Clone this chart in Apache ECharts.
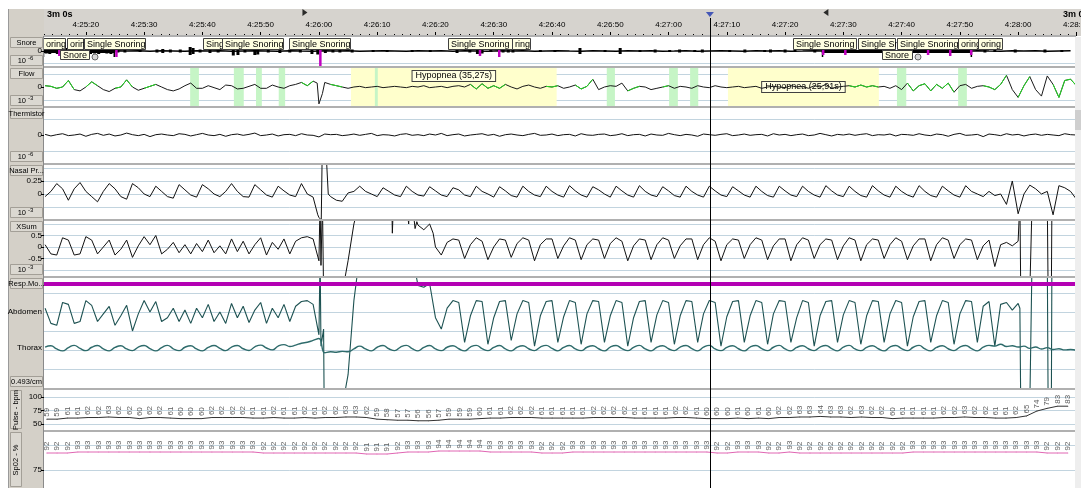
<!DOCTYPE html>
<html>
<head>
<meta charset="utf-8">
<title>PSG epoch</title>
<script src="https://cdn.jsdelivr.net/npm/echarts@6.0.0/dist/echarts.min.js"></script>
<style>
  html, body { margin: 0; padding: 0; background: #fff; }
  #main { width: 1081px; height: 488px; }
</style>
</head>
<body>
<div id="main"></div>
<script>
// x axis = seconds after 4:25:10, a 3 minute window
var CLOCK_START = 4 * 3600 + 25 * 60 + 10;
var WINDOW = 180;
var SAMPLE_T0 = 3, SAMPLE_DT = 1;        // waveform samples
var SNORE_DT = 2;                         // snore baseline samples
var LABEL_T0 = 3.3, LABEL_DT = 1.77;      // pulse / SpO2 readings
var CURSOR_T = 117.1;
var MARK_START = 47.6, MARK_END = 137;

// ---- events ----
var snoreLabels = [
  [2.6, 6.4, 'oring'], [6.8, 9.5, 'orin'], [9.7, 20.2, 'Single Snoring'],
  [30.1, 33.4, 'Sing'], [33.4, 43.8, 'Single Snoring'], [44.9, 55.3, 'Single Snoring'],
  [72.2, 83.1, 'Single Snoring'], [83.1, 86.2, 'ring'],
  [131.4, 142.2, 'Single Snoring'], [142.5, 148.9, 'Single Sn'], [149.2, 159.7, 'Single Snoring'],
  [159.7, 163.1, 'oring'], [163.1, 167.2, 'oring']
];
var snoreBoxes = [[5.6, 10.5, 'Snore'], [146.6, 151.8, 'Snore']];
var snoreEvents = [[2.6, 15.0], [136.3, 162.1]];
var snoreMarks = [
  [5.4, 0.4, -0.5], [15.2, 0.4, -0.6], [50.2, 0.6, -1.5], [77.6, 0.4, -0.5], [80.9, 0.4, -0.6],
  [136.5, 0.4, -0.4], [140.3, 0.3, -0.4], [147.8, 0.4, -0.5], [154.5, 0.4, -0.4],
  [158.3, 0.4, -0.5], [161.9, 0.3, -0.4]
];
var snoreBursts = [
  [3.2,0.25],[3.8,0.3],[4.5,0.2],[5.1,0.3],[5.9,0.25],[6.6,0.3],[7.3,0.2],[8.0,0.3],[8.7,0.25],
  [9.4,0.3],[10.1,0.2],[10.8,0.3],[11.5,0.25],[12.2,0.3],[12.9,0.2],[13.6,0.25],[14.3,0.3],
  [15.5,0.15],[16.7,0.15],[19.3,0.1],[22.2,0.15],[23.2,0.2],[24.5,0.15],[26.2,0.15],[27.9,0.4],
  [28.4,0.3],[29.6,0.15],[31.3,0.2],[32.7,0.15],[35.3,0.45],[36.1,0.4],[37.3,0.15],[39.0,0.4],
  [39.5,0.35],[41.3,0.15],[43.3,0.2],[45.0,0.15],[46.8,0.15],[48.8,0.3],[49.8,0.35],[51.1,0.2],
  [52.4,0.15],[53.6,0.15],[55.7,0.15],[59.3,0.1],[61.7,0.1],[66.0,0.1],[69.1,0.1],[73.7,0.2],
  [75.9,0.15],[77.2,0.3],[78.0,0.25],[79.5,0.1],[81.6,0.15],[82.5,0.15],[83.3,0.15],[88.0,0.1],
  [90.5,0.1],[94.8,0.3],[99.1,0.1],[101.7,0.3],[105.1,0.1],[107.7,0.15],[110.2,0.1],[111.9,0.15],
  [114.5,0.1],[115.8,0.15],[120.5,0.1],[123.1,0.15],[126.5,0.1],[127.5,0.15],[130.0,0.15],
  [131.7,0.1],[135.1,0.15],[137.5,0.2],[139.0,0.15],[141.0,0.2],[143.5,0.15],[145.0,0.2],
  [150.0,0.15],[152.5,0.2],[155.5,0.15],[157.0,0.2],[160.0,0.15],[164.3,0.15],[166.0,0.1],
  [169.5,0.15],[174.6,0.15],[177.5,0.1]
];
var flowBands = [[27.9,29.4],[35.4,37.1],[39.2,40.2],[43.1,44.2],[59.6,60.1],[99.4,100.8],
  [110.1,111.6],[113.7,115.1],[149.2,150.8],[159.7,161.2]];
var hypopnea = [[55.5, 90.8, 'Hypopnea (35,27s)'], [120.2, 146.1, 'Hypopnea (25,91s)']];
var flowGreen = [[3,8],[10,12.5],[15,18.5],[19.5,22],[46.5,49.5],[51.5,54.5],[76,79],[79.5,82],
  [88.5,91],[93.5,97],[103,105],[108.5,110.5],[140.5,146],[151,159],[164,168.5],[170,172],[175.5,180]];

// ---- waveforms (1 s samples from t=3) ----
var snoreBase = [
  0,0.03,-0.02,0.02,0,-0.03,0.02,0,0.03,-0.02,
  0.02,0,-0.02,0.03,0,0.02,-0.03,0,0.02,0,
  -0.02,0.03,0,-0.02,0.02,0,0.03,-0.02,0,0.02,
  0,-0.03,0.02,0,0.02,-0.02,0.03,0,-0.02,0.02,
  0,0.02,-0.03,0,0.03,0,-0.02,0.02,0,-0.02,
  0.03,0,0.02,-0.02,0,0.03,-0.02,0,0.02,0,
  -0.03,0.02,0,0.02,-0.02,0,0.03,0,-0.02,0.02,
  0,-0.02,0.03,0,0.02,-0.03,0,0.02,0,-0.02,
  0.03,0,-0.02,0.02,0,0.03,-0.02,0,0.02
];
var flow = [
  0.1,0.05,-0.1,0.0,0.5,-0.2,-0.3,0.0,0.4,0.1,
  -0.2,-0.35,-0.1,0.0,0.55,0.0,-0.25,-0.1,0.05,0.2,
  0.0,-0.2,-0.3,-0.15,0.1,0.3,-0.1,-0.1,0.1,-0.05,
  -0.2,0.15,0.1,-0.15,-0.1,0.05,0.2,-0.1,-0.1,0.15,
  0.0,-0.1,0.1,0.2,0.35,0.1,0.45,-1.3,0.35,0.2,
  0.1,0.0,-0.1,0.0,0.05,-0.05,0.0,0.05,-0.05,0.0,
  0.05,0.0,-0.05,0.05,0.0,0.1,-0.05,0.0,0.05,-0.05,
  0.05,0.1,0.0,0.2,-0.15,0.25,-0.1,0.1,-0.1,0.2,
  0.0,-0.15,0.05,0.15,0.0,-0.1,0.05,0.0,0.1,-0.1,
  0.0,0.15,-0.15,0.05,0.6,-0.2,0.0,0.1,0.05,0.3,
  -0.3,-0.1,0.05,0.0,-0.2,-0.1,0.0,0.1,-0.1,0.05,
  0.0,-0.1,0.1,0.0,-0.05,0.1,0.0,-0.05,0.0,0.05,
  -0.05,0.0,0.05,-0.1,0.0,0.05,0.0,-0.05,0.1,0.0,
  0.05,-0.1,0.1,0.0,0.2,-0.1,0.0,0.05,0.1,0.0,
  0.15,0.0,0.1,0.0,0.05,-0.1,0.1,-0.2,0.3,-0.3,
  0.1,0.25,-0.3,0.2,-0.1,0.3,-0.4,0.1,0.2,-0.1,
  0.05,0.1,0.0,-0.2,0.2,0.9,-0.2,-0.8,0.1,0.8,
  -0.2,-0.7,0.85,0.2,-0.8,0.5,0.6,0.1
];
var flowExtra = [[49.7, 0.3], [50.6, -0.5]];
var thermistor = [
  0.04,-0.06,0.02,0.08,-0.04,0.0,0.06,-0.08,0.04,0.1,
  -0.02,0.06,-0.06,0.0,0.12,0.02,-0.04,0.04,-0.1,0.02,
  0.06,0.0,-0.04,0.08,0.04,-0.06,0.02,0.1,0.0,-0.04,
  0.04,-0.08,0.02,0.06,-0.02,0.04,0.12,-0.04,0.0,0.06,
  -0.06,0.02,0.04,-0.04,0.08,0.0,-0.02,-0.12,0.06,0.02,
  0.04,-0.04,0.0,0.06,-0.02,0.04,0.1,-0.04,0.02,0.0,
  -0.06,0.04,0.08,-0.02,0.02,-0.04,0.06,0.0,0.1,-0.04,
  0.02,0.06,-0.06,0.0,0.04,0.08,-0.02,0.04,-0.08,0.02,
  0.06,0.0,-0.04,0.04,0.1,-0.02,0.0,0.06,-0.04,0.02,
  0.04,-0.06,0.08,0.0,-0.02,0.04,0.06,-0.04,0.0,0.08,
  -0.04,0.02,0.04,-0.06,0.06,0.0,-0.02,0.1,0.02,-0.04,
  0.04,0.0,-0.08,0.06,0.02,-0.02,0.04,0.08,-0.04,0.0,
  0.06,-0.02,0.02,0.04,-0.06,0.08,0.0,0.04,-0.04,0.02,
  0.06,-0.04,0.0,0.1,0.02,-0.06,0.04,0.0,0.06,-0.02,
  0.04,0.08,-0.04,0.02,0.0,0.06,-0.06,0.04,0.02,-0.02,
  0.08,0.0,-0.04,0.06,0.02,-0.08,0.04,0.1,-0.02,0.0,
  0.04,-0.1,0.06,0.02,-0.04,0.08,0.0,0.04,-0.06,0.02,
  0.06,-0.02,0.04,0.0,-0.04,0.08,0.02,0.0
];
var nasal = [
  -0.05,0.05,0.2,0.1,-0.12,0.1,0.22,0.05,-0.05,-0.15,
  0.05,0.2,0.1,-0.05,-0.1,0.2,0.12,0.0,-0.05,0.15,
  0.05,-0.05,-0.08,0.18,0.08,-0.02,-0.06,0.18,0.1,0.0,
  -0.05,0.05,0.2,0.05,-0.05,-0.06,0.18,0.08,-0.02,-0.06,
  0.15,0.06,-0.02,-0.05,0.2,0.0,-0.06,-0.45,0.7,-0.05,
  -0.12,-0.14,0.02,0.05,0.15,0.05,0.0,-0.05,0.12,0.05,
  -0.02,-0.05,0.15,0.05,-0.02,-0.04,0.14,0.06,-0.02,-0.05,
  0.12,0.08,-0.02,-0.05,0.15,0.05,0.0,-0.06,0.14,0.06,
  -0.03,-0.06,0.15,0.05,-0.02,-0.05,0.15,0.05,-0.02,-0.06,
  0.16,0.06,-0.02,-0.06,0.14,0.08,0.0,-0.06,0.15,0.06,
  -0.02,-0.06,0.16,0.05,-0.02,-0.05,0.14,0.06,-0.03,-0.06,
  0.15,0.05,-0.02,-0.06,0.15,0.06,-0.02,-0.05,0.14,0.06,
  -0.02,-0.06,0.15,0.05,-0.03,-0.06,0.15,0.06,-0.02,-0.05,
  0.15,0.05,-0.02,-0.06,0.16,0.06,-0.02,-0.05,0.15,0.05,
  -0.03,-0.06,0.16,0.06,-0.02,-0.06,0.15,0.05,-0.02,-0.06,
  0.16,0.05,-0.03,-0.06,0.15,0.06,-0.02,-0.06,0.16,0.05,
  0.0,-0.05,0.05,-0.03,0.0,-0.2,0.25,-0.38,0.0,0.17,
  0.1,0.0,0.05,-0.4,0.16,0.12,0.05,-0.1
];
var nasalExtra = [[49.8, -0.4], [50.4, -0.5], [50.55, 0.7], [51.3, 0.65], [51.6, 0.0]];
var xsum = [
  0.1,-0.3,-0.35,0.4,0.3,-0.35,-0.3,0.45,0.3,-0.3,
  0.0,0.3,-0.35,-0.1,0.3,-0.45,0.05,0.45,0.1,0.5,
  -0.3,-0.1,0.2,-0.25,0.1,-0.3,0.15,-0.2,0.3,-0.25,
  0.05,-0.3,0.35,-0.2,0.25,-0.3,0.1,0.4,-0.35,0.2,
  -0.1,0.35,-0.3,0.25,0.4,0.45,0.35,-0.6,-2,-2,
  -2,-2,-0.6,1.0,2,2,2,2,2,2,
  2,2,2,2,0.95,0.75,1.0,0.0,-0.35,0.2,
  0.35,0.3,-0.5,0.1,0.4,0.25,-0.55,0.0,0.35,0.3,
  -0.45,0.15,0.4,0.3,-0.6,0.1,0.35,0.35,-0.5,0.05,
  0.4,0.3,-0.55,0.1,0.35,0.3,-0.5,0.15,0.4,0.25,
  -0.6,0.05,0.35,0.3,-0.55,0.1,0.4,0.3,-0.5,0.05,
  0.35,0.35,-0.55,0.1,0.4,0.25,-0.6,0.1,0.35,0.3,
  -0.5,0.1,0.4,0.3,-0.55,0.05,0.35,0.35,-0.6,0.1,
  0.4,0.3,-0.5,0.1,0.35,0.3,-0.55,0.05,0.4,0.3,
  -0.6,0.1,0.35,0.3,-0.5,0.1,0.4,0.25,-0.55,0.05,
  0.35,0.35,-0.6,0.1,0.4,0.3,-0.5,0.1,0.35,0.3,
  -0.55,0.05,0.3,-0.85,0.1,0.2,0.05,0.25,-2,-2,
  2,2,2,2,2,2,2,2
];
var xsumExtra = [[50.2,2],[50.35,-0.8],[50.6,2],[50.8,-2],[62.5,2],[62.6,0.6],[62.8,2],
  [65.3,2],[65.4,1.0],[65.6,2],[66.3,2],[66.5,0.8],[66.8,1.1],[69.6,0.6],
  [170.3,2],[170.45,-2],[172.3,-2],[172.4,2],[175.05,2],[175.15,-2],[175.7,-2],[175.8,2]];
var abdomen = [
  0.2,-0.6,-0.7,0.5,0.4,-0.6,-0.5,0.6,0.35,-0.5,
  -0.1,0.3,-0.7,-0.2,0.35,-1.0,-0.1,0.6,0.0,0.55,
  -0.5,-0.3,0.2,-0.5,0.1,-0.6,0.2,-0.3,0.4,-0.5,
  0.0,-0.6,0.45,-0.3,0.3,-0.55,0.1,0.5,-0.6,0.2,
  -0.3,0.4,-0.5,0.3,0.55,0.6,0.4,-1.2,-5,-5,
  -5,-5,-3.3,0.6,3,3,3,3,3,3,
  3,3,3,3,1.4,1.3,1.5,-0.3,-0.9,0.2,
  0.6,0.5,-1.6,-0.2,0.6,0.55,-1.7,-0.3,0.55,0.6,
  -1.5,-0.1,0.6,0.5,-1.8,-0.2,0.55,0.6,-1.6,-0.25,
  0.6,0.5,-1.7,-0.1,0.6,0.55,-1.6,-0.2,0.6,0.5,
  -1.8,-0.3,0.55,0.6,-1.6,-0.15,0.6,0.5,-1.7,-0.2,
  0.6,0.55,-1.6,-0.1,0.6,0.5,-1.8,-0.25,0.55,0.6,
  -1.6,-0.2,0.6,0.5,-1.7,-0.1,0.6,0.55,-1.6,-0.3,
  0.6,0.5,-1.8,-0.2,0.55,0.6,-1.6,-0.15,0.6,0.5,
  -1.7,-0.2,0.6,0.55,-1.6,-0.1,0.6,0.5,-1.8,-0.25,
  0.55,0.6,-1.6,-0.2,0.6,0.5,-1.7,-0.1,0.6,0.55,
  -1.6,0.3,0.55,-1.8,0.4,0.5,0.1,0.45,-5,-5,
  3,3,3,3,3,3,3,3
];
var abdomenExtra = [[50.2,3],[50.35,-1.8],[50.8,-0.9],[50.9,-5],
  [170.3,0.2],[170.45,-5],[172.3,-5],[172.4,3],[175.05,3],[175.15,-5],[175.7,-5],[175.8,3]];
var thorax = [
  0.05,0.12,-0.05,-0.15,0.02,0.14,-0.02,-0.14,0.04,0.13,
  -0.04,-0.15,0.03,0.12,-0.05,-0.14,0.05,0.13,-0.03,-0.15,
  0.02,0.14,-0.04,-0.14,0.04,0.12,-0.05,-0.15,0.03,0.13,
  -0.02,-0.14,0.05,0.13,-0.04,-0.13,0.06,0.15,0.0,-0.1,
  0.1,0.18,0.08,0.15,0.25,0.3,0.4,0.5,-0.25,-0.2,
  -0.22,-0.18,-0.2,-0.05,0.1,-0.05,-0.15,0.04,0.13,-0.04,
  -0.14,0.05,0.14,-0.03,-0.15,0.03,0.13,-0.05,-0.14,0.04,
  0.12,-0.04,-0.15,0.05,0.14,-0.03,-0.14,0.03,0.13,-0.05,
  -0.15,0.04,0.12,-0.04,-0.14,0.05,0.14,-0.02,-0.15,0.03,
  0.13,-0.05,-0.14,0.04,0.12,-0.04,-0.15,0.05,0.13,-0.03,
  -0.14,0.03,0.14,-0.05,-0.15,0.04,0.12,-0.04,-0.14,0.05,
  0.13,-0.03,-0.15,0.04,0.14,-0.05,-0.14,0.03,0.12,-0.04,
  -0.15,0.05,0.13,-0.03,-0.14,0.04,0.14,-0.05,-0.15,0.03,
  0.12,-0.04,-0.14,0.05,0.13,-0.03,-0.15,0.04,0.14,-0.05,
  -0.14,0.03,0.12,-0.04,-0.15,0.05,0.13,-0.03,-0.14,0.04,
  0.14,-0.05,-0.15,0.03,0.12,-0.04,-0.14,0.05,0.13,-0.03,
  -0.15,0.04,0.14,0.1,0.2,0.08,0.12,0.05,0.1,-0.02,
  0.05,-0.05,0.02,-0.08,-0.04,-0.1,-0.08,-0.12
];
var respMo = [1.47, 1.47, 1.47, 1.47];   // every 60 s

// ---- readings ----
var pulse = [
  59,59,61,61,62,62,63,62,62,60,62,62,61,60,60,60,62,62,62,62,61,61,62,61,61,62,61,62,62,63,63,
  62,59,58,57,57,56,56,57,59,59,59,60,61,61,62,62,62,61,61,61,61,61,62,62,62,62,61,61,61,61,62,62,61,60,60,
  60,61,60,61,60,62,62,63,63,64,63,63,62,63,62,62,60,61,61,61,61,62,62,63,62,62,61,61,62,65,74,79,83,83
];
var spo2 = [
  92,92,92,93,93,93,93,93,93,93,93,93,93,93,93,93,93,93,93,93,93,92,92,92,92,92,92,92,92,92,92,
  91,91,91,92,93,93,93,94,94,94,94,94,93,93,93,93,93,92,92,92,93,93,93,93,93,93,93,93,93,93,93,93,93,93,92,
  92,93,93,93,92,92,93,92,92,92,92,92,92,92,92,92,92,92,93,93,93,93,93,93,93,93,93,93,93,93,93,92,92,92
];

// tick values
var flowTicks = [0], thermTicks = [0], snoreTicks = [0];
var nasalTicks = [0.25, 0], xsumTicks = [0.5, 0, -0.5];
var pulseTicks = [100, 75, 50], spo2Ticks = [75];
var snoreGrid = [-1.2], flowGrid = [1, -1], thermGrid = [1, -1];
var nasalGrid = [0.5, 0.25, 0, -0.25], xsumGrid = [1, 0.5, 0, -0.5, -1];
var respGrid = [1, 0, -1, -2, -3], pulseGrid = [100, 75, 50], spo2Grid = [100, 75];

// ---- helpers ----
function sampled(values, t0, dt, extra) {
  var pts = values.map(function (v, i) { return [t0 + i * dt, v]; });
  if (extra) pts = pts.concat(extra).sort(function (a, b) { return a[0] - b[0]; });
  return pts;
}
function wave(values, extra) { return sampled(values, SAMPLE_T0, SAMPLE_DT, extra); }
function onlyIn(points, ranges) {
  return points.map(function (p) {
    var hit = ranges.some(function (r) { return p[0] >= r[0] && p[0] <= r[1]; });
    return hit ? p : [p[0], null];
  });
}
function clock(t) {
  var s = Math.round(CLOCK_START + t);
  var h = Math.floor(s / 3600), m = Math.floor(s % 3600 / 60), ss = s % 60;
  return h + ':' + (m < 10 ? '0' : '') + m + ':' + (ss < 10 ? '0' : '') + ss;
}
function gridLines(vals) {
  return { silent: true, symbol: ['none', 'none'], animation: false, label: { show: false }, z: 1,
    lineStyle: { color: '#c2d4df', width: 1, type: 'solid' },
    data: vals.map(function (v) { return { yAxis: v }; }) };
}
function line(xi, yi, data, color, width, more) {
  var s = { type: 'line', xAxisIndex: xi, yAxisIndex: yi, data: data, symbol: 'none', showSymbol: false,
    silent: true, animation: false, z: 3, lineStyle: { color: color, width: width || 1 } };
  for (var k in more) s[k] = more[k];
  return s;
}

var GRID_LEFT = 27.6, GRID_W = 1048.8, AXIS_SHIFT = 44 - GRID_LEFT;
var layout = [[9, 27], [37, 30], [68, 39], [108, 55], [165, 54], [221, 55], [278, 110], [390, 40], [432, 55]];
var FONT = '"Liberation Sans", Arial, sans-serif';

function yAx(grid, min, max, ticks, fmt) {
  return { gridIndex: grid, type: 'value', min: min, max: max, position: 'left', offset: -AXIS_SHIFT, z: 120,
    show: true, axisLine: { show: false }, splitLine: { show: false },
    axisTick: { show: !!ticks, customValues: ticks || [], length: 3, lineStyle: { color: '#000' } },
    axisLabel: { show: !!ticks, customValues: ticks || [], fontSize: 8, margin: 2, color: '#000',
      fontFamily: FONT, formatter: fmt } };
}

var chart = echarts.init(document.getElementById('main'));

var xAxes = layout.map(function (l, i) {
  if (i === 0) {
    return { gridIndex: 0, type: 'value', min: 0, max: WINDOW, interval: 10, position: 'bottom', z: 50,
      axisLine: { show: false },
      axisTick: { inside: true, length: 4, lineStyle: { color: '#000' } },
      minorTick: { show: true, splitNumber: 7, length: 2, lineStyle: { color: '#000' } },
      axisLabel: { inside: true, margin: 7, fontSize: 8, color: '#000', fontFamily: FONT, formatter: clock },
      splitLine: { show: false } };
  }
  return { gridIndex: i, type: 'value', min: 0, max: WINDOW, show: false };
});

var yAxes = [
  { gridIndex: 0, type: 'value', min: 0, max: 1, show: false },
  yAx(1, -1.6, 1.4, snoreTicks),
  yAx(2, -1.538, 1.4615, flowTicks),
  yAx(3, -1.75, 1.6875, thermTicks),
  yAx(4, -0.4808, 0.5577, nasalTicks),
  yAx(5, -1.261, 1.13, xsumTicks),
  yAx(6, -4, 1.789, [0], function () { return 'Abdomen'; }),
  yAx(6, -2.105, 3.684, [0], function () { return 'Thorax'; }),
  yAx(7, 38.9, 113, pulseTicks),
  yAx(8, 58, 113, spo2Ticks)
];
yAxes[6].axisTick.show = false;
yAxes[7].axisTick.show = false;

function band(color) {
  return function (params, api) {
    var cs = params.coordSys;
    var x1 = api.coord([api.value(0), 0])[0], x2 = api.coord([api.value(1), 0])[0];
    return { type: 'rect', shape: { x: x1, y: cs.y, width: x2 - x1, height: cs.height }, style: { fill: color } };
  };
}
function tagBox(list, row) {
  return function (params, api) {
    var cs = params.coordSys;
    var x1 = Math.round(api.coord([api.value(0), 0])[0]), x2 = Math.round(api.coord([api.value(1), 0])[0]);
    var y = cs.y + (row ? 13 : 1), h = row ? 9 : 11;
    var kids = [
      { type: 'rect', shape: { x: x1 + 0.5, y: y + 0.5, width: x2 - x1, height: h },
        style: { fill: '#ffffe1', stroke: '#404040', lineWidth: 1 } },
      { type: 'text', style: { text: list[params.dataIndex][2], x: x1 + 3, y: y + h / 2 + 1,
        verticalAlign: 'middle', font: '9px ' + FONT, fill: '#000' } }
    ];
    if (row) kids.push({ type: 'circle', shape: { cx: x2 + 6, cy: y + 7, r: 3 },
      style: { fill: '#d8d8d8', stroke: '#666', lineWidth: 1 } });
    return { type: 'group', children: kids };
  };
}
function pair(list) { return list.map(function (d) { return [d[0], d[1]]; }); }

// rotated reading next to each pulse / SpO2 sample
function readings(xi, yi, data, color) {
  return { type: 'scatter', xAxisIndex: xi, yAxisIndex: yi, data: data, symbolSize: 1, silent: true,
    animation: false, z: 4, itemStyle: { color: color },
    label: { show: true, position: 'top', distance: 2, rotate: 90, align: 'left', verticalAlign: 'middle',
      fontSize: 8, color: '#333', fontFamily: FONT, formatter: function (p) { return String(p.value[1]); } },
    labelLayout: { hideOverlap: false } };
}

var pulseData = sampled(pulse, LABEL_T0, LABEL_DT);
var spo2Data = sampled(spo2, LABEL_T0, LABEL_DT);

var series = [
  { type: 'scatter', xAxisIndex: 0, yAxisIndex: 0, symbol: 'triangle', silent: true, animation: false, z: 60,
    data: [
      { value: [MARK_START, 0.87], symbolRotate: -90, symbolSize: [7, 5], itemStyle: { color: '#000' } },
      { value: [CURSOR_T, 0.8], symbolRotate: 180, symbolSize: [8, 5], itemStyle: { color: '#2038b0' } },
      { value: [MARK_END, 0.87], symbolRotate: 90, symbolSize: [7, 5], itemStyle: { color: '#000' } }
    ] },
  // snore
  line(1, 1, sampled(snoreBase, SAMPLE_T0, SNORE_DT), '#000', 1.5, { markLine: gridLines(snoreGrid) }),
  { type: 'custom', xAxisIndex: 1, yAxisIndex: 1, silent: true, animation: false, z: 3, data: snoreBursts,
    renderItem: function (params, api) {
      var p = api.coord([api.value(0), 0]);
      var h = Math.abs(api.size([0, api.value(1)])[1]);
      return { type: 'rect', shape: { x: p[0] - 1.5, y: p[1] - h, width: 3, height: 2 * h }, style: { fill: '#000' } };
    } },
  { type: 'custom', xAxisIndex: 1, yAxisIndex: 1, silent: true, animation: false, z: 3, data: snoreEvents,
    renderItem: function (params, api) {
      var a = api.coord([api.value(0), 0]), b = api.coord([api.value(1), 0]);
      return { type: 'group', children: [
        { type: 'rect', shape: { x: a[0], y: a[1] - 1, width: b[0] - a[0], height: 3 }, style: { fill: '#000' } },
        { type: 'rect', shape: { x: a[0], y: a[1] - 1, width: 1.5, height: 7 }, style: { fill: '#000' } },
        { type: 'rect', shape: { x: b[0] - 1.5, y: a[1] - 1, width: 1.5, height: 7 }, style: { fill: '#000' } }
      ] };
    } },
  { type: 'custom', xAxisIndex: 1, yAxisIndex: 1, silent: true, animation: false, z: 4, data: snoreMarks,
    renderItem: function (params, api) {
      var top = api.coord([api.value(0), api.value(1)]), bot = api.coord([api.value(0), api.value(2)]);
      return { type: 'rect', shape: { x: top[0] - 1, y: top[1], width: 2.5, height: bot[1] - top[1] },
        style: { fill: '#c000c0' } };
    } },
  { type: 'custom', xAxisIndex: 1, yAxisIndex: 1, silent: true, animation: false, z: 5,
    data: pair(snoreLabels), renderItem: tagBox(snoreLabels, 0) },
  { type: 'custom', xAxisIndex: 1, yAxisIndex: 1, silent: true, animation: false, z: 5,
    data: pair(snoreBoxes), renderItem: tagBox(snoreBoxes, 1) },
  // flow
  { type: 'custom', xAxisIndex: 2, yAxisIndex: 2, silent: true, animation: false, z: 1,
    data: pair(hypopnea), renderItem: band('#ffffcc') },
  { type: 'custom', xAxisIndex: 2, yAxisIndex: 2, silent: true, animation: false, z: 1,
    data: flowBands, renderItem: band('#c6f5c6') },
  { type: 'custom', xAxisIndex: 2, yAxisIndex: 2, silent: true, animation: false, z: 2,
    data: pair(hypopnea),
    renderItem: function (params, api) {
      var cs = params.coordSys;
      var x1 = api.coord([api.value(0), 0])[0], x2 = api.coord([api.value(1), 0])[0];
      return { type: 'text', style: { text: hypopnea[params.dataIndex][2], x: (x1 + x2) / 2,
        y: cs.y + (params.dataIndex % 2 ? 19 : 8), align: 'center', verticalAlign: 'middle',
        font: '9px ' + FONT, fill: '#000', backgroundColor: '#ffffe1', borderColor: '#404040',
        borderWidth: 1, padding: [1, 3, 0, 3] } };
    } },
  line(2, 2, wave(flow, flowExtra), '#1a1a1a', 1, { markLine: gridLines(flowGrid) }),
  line(2, 2, onlyIn(wave(flow, flowExtra), flowGreen), '#22dd22', 1, { z: 4, connectNulls: false }),
  // thermistor, nasal pressure, xsum
  line(3, 3, wave(thermistor), '#111', 1, { markLine: gridLines(thermGrid) }),
  line(4, 4, wave(nasal, nasalExtra), '#111', 1, { markLine: gridLines(nasalGrid) }),
  line(5, 5, wave(xsum, xsumExtra), '#111', 1, { markLine: gridLines(xsumGrid) }),
  // respiratory movement
  line(6, 6, wave(abdomen, abdomenExtra), '#1d5252', 1.1, { markLine: gridLines(respGrid) }),
  line(6, 6, sampled(respMo, 0, 60), '#b400b4', 4, { z: 4 }),
  line(6, 7, wave(thorax), '#2e6b6b', 1.4, { smooth: true }),
  // pulse & SpO2
  line(7, 8, pulseData, '#333', 1, { markLine: gridLines(pulseGrid) }),
  readings(7, 8, pulseData, '#333'),
  line(8, 9, spo2Data, '#e066b3', 1, { markLine: gridLines(spo2Grid) }),
  readings(8, 9, spo2Data, '#e066b3')
];

chart.setOption({
  backgroundColor: '#fff',
  animation: false,
  textStyle: { fontFamily: FONT },
  grid: layout.map(function (l) {
    return { left: GRID_LEFT, width: GRID_W, top: l[0], height: l[1], show: false, outerBoundsMode: 'none', containLabel: false };
  }),
  xAxis: xAxes,
  yAxis: yAxes,
  series: series
});

// ---- frame: ruler, label column, separators, cursor ----
var panels = [
  { top: 37, h: 30, name: 'Snore', exp: '-6' },
  { top: 68, h: 39, name: 'Flow', exp: '-3' },
  { top: 108, h: 55, name: 'Thermistor', exp: '-6' },
  { top: 165, h: 54, name: 'Nasal Pr...', exp: '-3' },
  { top: 221, h: 55, name: 'XSum', exp: '-3' },
  { top: 278, h: 110, name: 'Resp.Mo...', scale: '0.493/cm' },
  { top: 390, h: 40, vname: 'Pulse - bpm' },
  { top: 432, h: 56, vname: 'Sp02 - %' }
];
var g = [];
g.push({ type: 'rect', z: 1, shape: { x: 9, y: 9, width: 1072, height: 27 }, style: { fill: '#d6d3ce' } });
g.push({ type: 'rect', z: 100, shape: { x: 9, y: 9, width: 35, height: 479 }, style: { fill: '#d4d0c8' } });
g.push({ type: 'line', z: 100, shape: { x1: 8.5, y1: 9, x2: 8.5, y2: 488 }, style: { stroke: '#9a9a9a', lineWidth: 1 } });
g.push({ type: 'line', z: 101, shape: { x1: 43.5, y1: 36, x2: 43.5, y2: 488 }, style: { stroke: '#8a8a8a', lineWidth: 1 } });
g.push({ type: 'text', z: 101, style: { text: '3m 0s', x: 47, y: 10, font: 'bold 9px ' + FONT, fill: '#000' } });
g.push({ type: 'text', z: 101, style: { text: '3m 0s', x: 1063, y: 10, font: 'bold 9px ' + FONT, fill: '#000' } });
panels.forEach(function (p) {
  g.push({ type: 'rect', z: 99, shape: { x: 9, y: p.top - 2, width: 1067, height: 2 }, style: { fill: '#b0b0b0' } });
  var box = { fill: '#dbd8d1', stroke: '#a39f97', lineWidth: 1 };
  if (p.name) {
    g.push({ type: 'rect', z: 101, shape: { x: 10.5, y: p.top + 0.5, width: 32, height: 10 }, style: box });
    g.push({ type: 'text', z: 102, style: { text: p.name, x: 26.5, y: p.top + 6, align: 'center', verticalAlign: 'middle',
      font: '7.5px ' + FONT, fill: '#000' } });
    g.push({ type: 'rect', z: 101, shape: { x: 10.5, y: p.top + p.h - 11.5, width: 32, height: 10 }, style: box });
    if (p.exp) {
      g.push({ type: 'text', z: 102, style: { text: '10', x: 26, y: p.top + p.h - 6, align: 'right', verticalAlign: 'middle',
        font: '7.5px ' + FONT, fill: '#000' } });
      g.push({ type: 'text', z: 102, style: { text: p.exp, x: 28, y: p.top + p.h - 9, align: 'left', verticalAlign: 'middle',
        font: '6px ' + FONT, fill: '#000' } });
    } else {
      g.push({ type: 'text', z: 102, style: { text: p.scale, x: 26.5, y: p.top + p.h - 6, align: 'center',
        verticalAlign: 'middle', font: '7.5px ' + FONT, fill: '#000' } });
    }
  } else {
    g.push({ type: 'rect', z: 101, shape: { x: 10.5, y: p.top + 0.5, width: 11, height: p.h - 2 }, style: box });
    g.push({ type: 'text', z: 102, x: 16, y: p.top + p.h / 2, rotation: Math.PI / 2,
      style: { text: p.vname, x: 0, y: 0, align: 'center', verticalAlign: 'middle', font: '7.5px ' + FONT, fill: '#000' } });
  }
});
g.push({ type: 'rect', z: 100, shape: { x: 1075, y: 37, width: 6, height: 451 }, style: { fill: '#eeeeee' } });
g.push({ type: 'rect', z: 101, shape: { x: 1075, y: 110, width: 6, height: 20 }, style: { fill: '#cfcfcf' } });
var cx = Math.round(chart.convertToPixel({ xAxisIndex: 0 }, CURSOR_T)) + 0.5;
g.push({ type: 'line', z: 110, shape: { x1: cx, y1: 18, x2: cx, y2: 488 }, style: { stroke: '#000', lineWidth: 1 } });
chart.setOption({ graphic: { elements: g } });
</script>
</body>
</html>
